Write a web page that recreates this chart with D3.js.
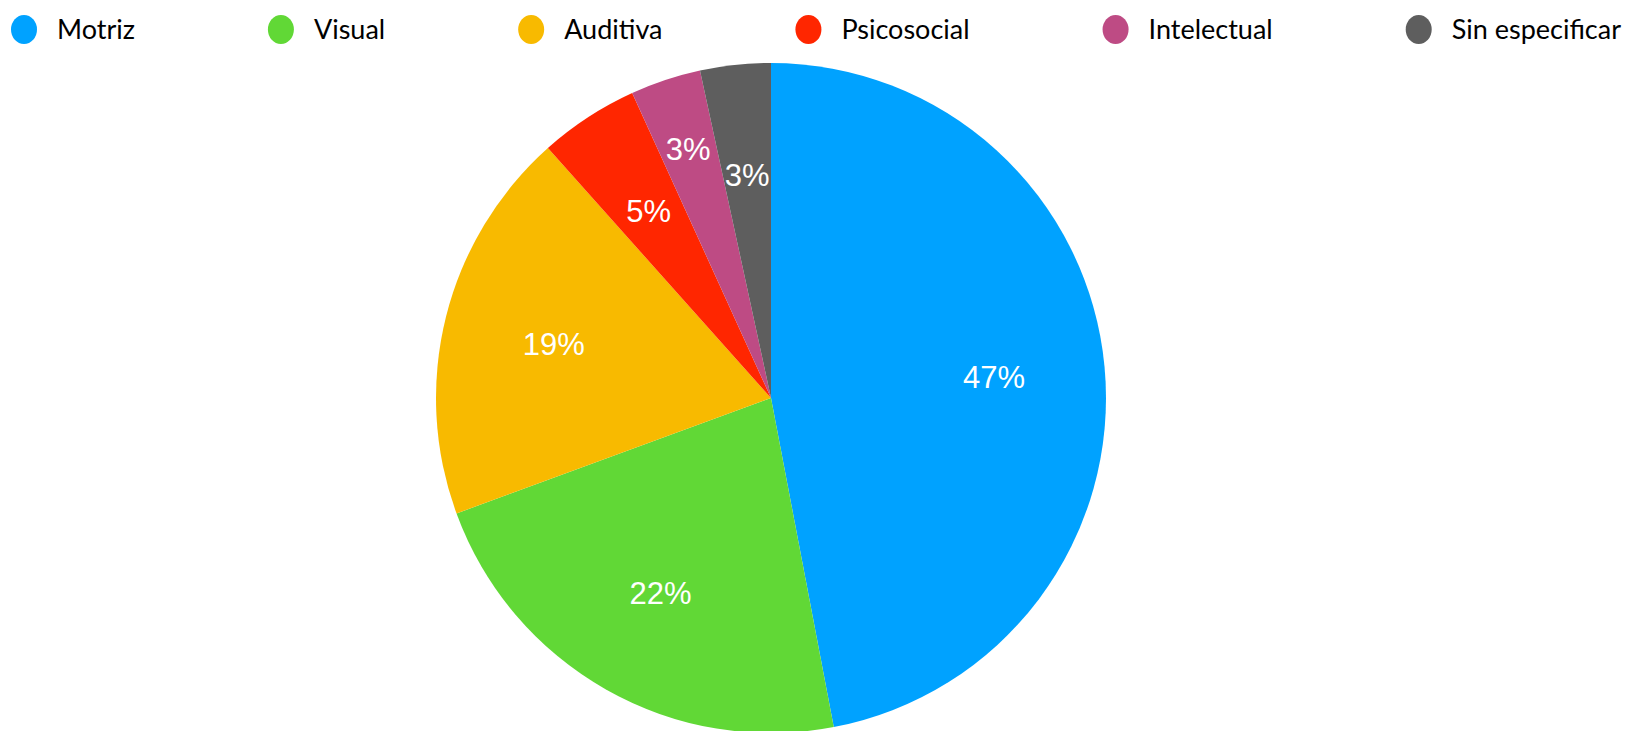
<!DOCTYPE html>
<html>
<head>
<meta charset="utf-8">
<script src="https://cdn.jsdelivr.net/npm/d3@7"></script>
<style>
  html, body { margin: 0; padding: 0; background: #fff; }
  svg { display: block; }
</style>
</head>
<body>
<svg id="chart" width="1636" height="731"></svg>
<script>
const categories = ["Motriz", "Visual", "Auditiva", "Psicosocial", "Intelectual", "Sin especificar"];
const values = [47.0, 22.4, 19.0, 4.8, 3.4, 3.4];
const colors = ["#00A2FF", "#61D836", "#F8BA00", "#FF2600", "#BE4B84", "#5E5E5E"];

const W = 1636, H = 731;
const svg = d3.select("#chart");

const data = categories.map((c, i) => ({ name: c, value: values[i], color: colors[i] }));

// Pie
const cx = 771, cy = 398, R = 335;
const pie = d3.pie().value(d => d.value).sort(null);
const arcs = pie(data);
const arc = d3.arc().innerRadius(0).outerRadius(R);
const g = svg.append("g").attr("transform", `translate(${cx},${cy})`);

g.selectAll("path.slice")
  .data(arcs)
  .enter().append("path")
  .attr("class", "slice")
  .attr("d", arc)
  .attr("fill", d => d.data.color);

const labelArc = d3.arc().innerRadius(224).outerRadius(224);
const labelArcOut = d3.arc().innerRadius(263).outerRadius(263);

g.selectAll("text.lbl")
  .data(arcs)
  .enter().append("text")
  .attr("class", "lbl")
  .attr("transform", d => {
    const a = d.data.name === "Intelectual" ? labelArcOut : labelArc;
    return `translate(${a.centroid(d)})`;
  })
  .attr("text-anchor", "middle")
  .attr("dy", "0.36em")
  .attr("fill", "#ffffff")
  .style("font-family", "'Liberation Sans', Arial, sans-serif")
  .style("font-size", "31px")
  .text(d => Math.round(d.data.value) + "%");

// Legend (space-between layout)
const legend = svg.append("g");
const legLeft = 11, legRight = 1621, legY = 29.5, dotR = 13, textGap = 33;
const items = legend.selectAll("g.item")
  .data(data)
  .enter().append("g")
  .attr("class", "item");

items.append("ellipse")
  .attr("rx", dotR)
  .attr("ry", 14.5)
  .attr("cy", legY)
  .attr("fill", d => d.color);

items.append("text")
  .attr("y", legY)
  .attr("dy", "0.35em")
  .attr("fill", "#000")
  .style("font-family", "Lato, 'Noto Sans', sans-serif")
  .style("font-size", "27px")
  .text(d => d.name);

const widths = [];
items.each(function() {
  widths.push(d3.select(this).select("text").node().getComputedTextLength());
});
const itemW = widths.map(w => 2 * dotR + (textGap - dotR) + w);
const total = d3.sum(itemW);
const gap = (legRight - legLeft - total) / (data.length - 1);
let x = legLeft;
items.each(function(d, i) {
  const sel = d3.select(this);
  sel.select("ellipse").attr("cx", x + dotR);
  sel.select("text").attr("x", x + dotR + textGap);
  x += itemW[i] + gap;
});
</script>
</body>
</html>
